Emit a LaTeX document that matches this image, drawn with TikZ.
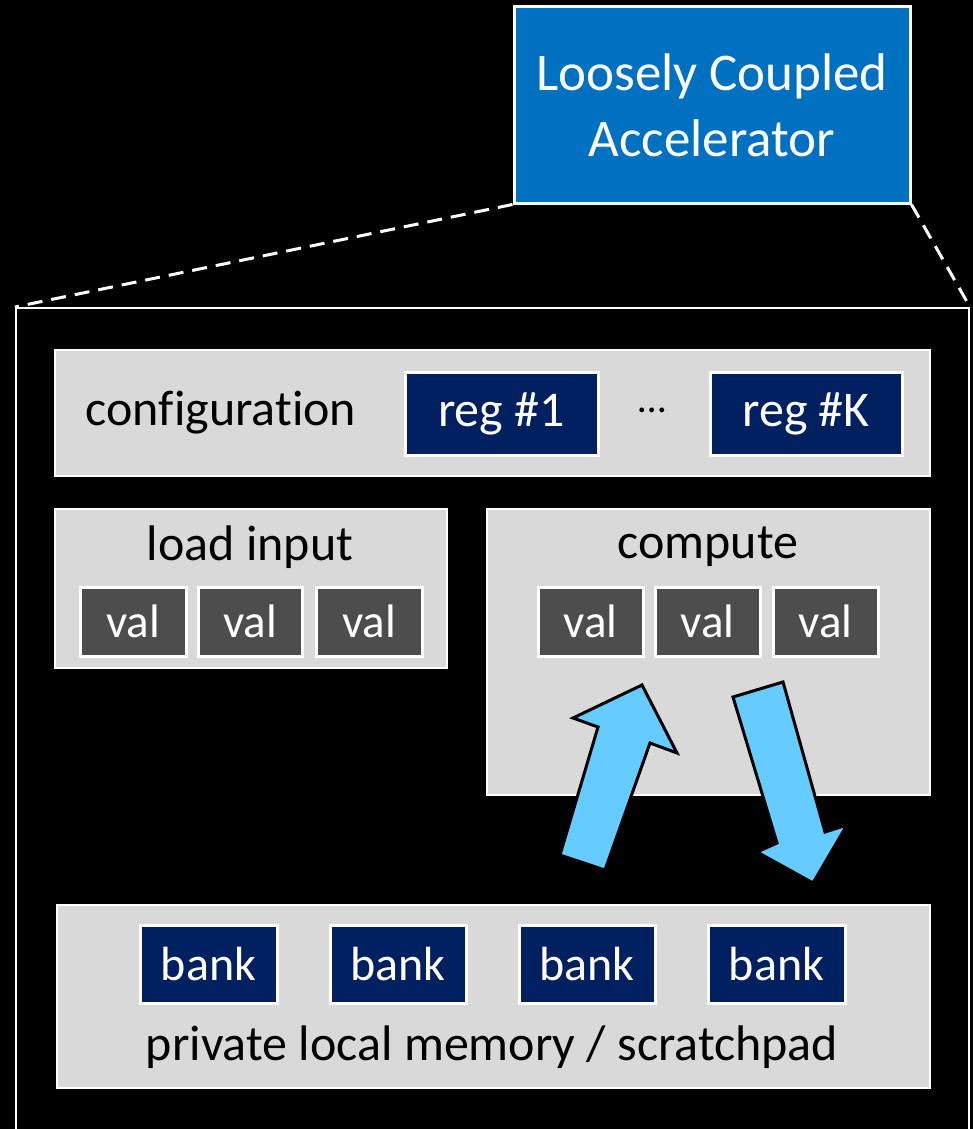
\documentclass[tikz,border=0pt]{standalone}
\usepackage{fontspec}
\setmainfont{Carlito}[Ligatures={NoCommon}]
\definecolor{accblue}{HTML}{0070C0}
\definecolor{navy}{HTML}{002060}
\definecolor{panel}{HTML}{D9D9D9}
\definecolor{valgrey}{HTML}{4D4D4D}
\definecolor{flow}{HTML}{66CCFF}
\begin{document}
\begin{tikzpicture}[x=1pt,y=-1pt,
  panelbox/.style={draw=white,line width=1.2pt,fill=panel,inner sep=0pt},
  regbox/.style={draw=white,line width=3pt,fill=navy,inner sep=0pt,text=white,font=\fontsize{50}{60}\selectfont},
  bankbox/.style={regbox,font=\fontsize{48}{58}\selectfont},
  valbox/.style={draw=white,line width=3pt,fill=valgrey,inner sep=0pt,text=white,font=\fontsize{47}{56}\selectfont},
  title/.style={text=black,inner sep=0pt,font=\fontsize{50}{60}\selectfont},
  linkline/.style={draw=white,line width=3pt,dash pattern=on 15pt off 9pt},
  flowarrow/.style={fill=flow,draw=black,line width=3pt,line join=miter}]
\useasboundingbox[fill=black] (0,0) rectangle (973,1129);

% accelerator block
\node[draw=white,line width=3pt,fill=accblue,inner sep=0pt,
      minimum width=396pt,minimum height=196pt,text=white,align=center,
      font=\fontsize{53}{66}\selectfont] (acc) at (712,105)
      {Loosely Coupled\\Accelerator};

% expanded view frame (open at the bottom)
\node[draw=white,line width=2pt,inner sep=0pt,minimum width=953pt,minimum height=860pt,anchor=north west] (frame) at (15,307) {};

\draw[linkline] (acc.south west) -- (frame.north west);
\draw[linkline] (acc.south east) -- (frame.north east);

% configuration row
\node[panelbox,minimum width=875pt,minimum height=126pt] (cfg) at (492.5,413) {};
\node[title] (cfgt) at (221,413) {configuration};
\node[regbox,minimum width=193pt,minimum height=83pt] (reg1) at (501.5,413.5) {reg \#1};
\node[title,font=\fontsize{40}{48}\selectfont] (dots) at (652,410) {…};
\node[regbox,minimum width=192pt,minimum height=83pt] (regk) at (806,413.5) {reg \#K};

% load input
\node[panelbox,minimum width=392pt,minimum height=159pt] (load) at (251,588.5) {};
\node[title] (loadt) at (250,547) {load input};
\node[valbox,minimum width=106pt,minimum height=69pt] (l1) at (133,621.5) {val};
\node[valbox,minimum width=104pt,minimum height=69pt] (l2) at (250,621.5) {val};
\node[valbox,minimum width=106pt,minimum height=69pt] (l3) at (369,621.5) {val};

% compute
\node[panelbox,minimum width=443pt,minimum height=286pt] (comp) at (708.5,652) {};
\node[title] (compt) at (708,547) {compute};
\node[valbox,minimum width=105pt,minimum height=69pt] (c1) at (590.5,621.5) {val};
\node[valbox,minimum width=105pt,minimum height=69pt] (c2) at (707.5,621.5) {val};
\node[valbox,minimum width=105pt,minimum height=69pt] (c3) at (825.5,621.5) {val};

% private local memory
\node[panelbox,minimum width=873pt,minimum height=183pt] (mem) at (493.5,996.5) {};
\node[bankbox,minimum width=137pt,minimum height=78pt] (b1) at (208.5,964) {bank};
\node[bankbox,minimum width=136pt,minimum height=78pt] (b2) at (398,964) {bank};
\node[bankbox,minimum width=136pt,minimum height=78pt] (b3) at (587,964) {bank};
\node[bankbox,minimum width=137pt,minimum height=78pt] (b4) at (776.5,964) {bank};
\node[title] (memt) at (492,1047) {private local memory / scratchpad};

% data movement between memory and compute
\draw[flowarrow] (560,855) -- (598,727) -- (573,718) -- (642,685) -- (677,753) -- (650,743) -- (605,870) -- cycle;
\draw[flowarrow] (733,697) -- (783,682) -- (825,832) -- (847,825) -- (813,883) -- (757,852) -- (777,843) -- cycle;
\end{tikzpicture}
\end{document}
